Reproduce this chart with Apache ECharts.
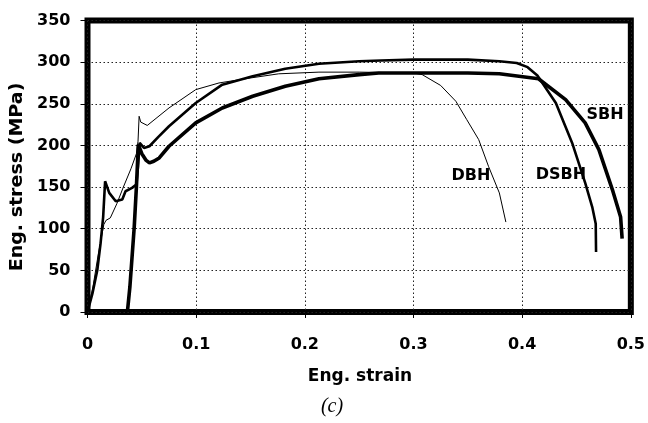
<!DOCTYPE html>
<html>
<head>
<meta charset="utf-8">
<script src="https://cdn.jsdelivr.net/npm/echarts@6/dist/echarts.min.js"></script>
<style>
html,body{margin:0;padding:0;background:#fff;}
#c{width:648px;height:423px;}
</style>
</head>
<body>
<div id="c"></div>
<script>
// ---- data ----
var xTicks = [0, 0.1, 0.2, 0.3, 0.4, 0.5];
var yTicks = [0, 50, 100, 150, 200, 250, 300, 350];

var dbhStrain = [0,0.005,0.01,0.015,0.017,0.021,0.027,0.033,0.04,0.045,0.0465,0.0475,0.049,0.055,0.075,0.0996,0.121,0.15,0.176,0.213,0.25,0.3,0.308,0.325,0.339,0.349,0.36,0.369,0.379,0.385];
var dbhStress = [0,30,70,105,110,113,130,150,172,190,205,235,228,224,245,267,275,281,286,288,288,287,285,272,253,231,207,175,143,108];

var dsbhStrain = [0,0.0045,0.009,0.012,0.0144,0.0162,0.02,0.026,0.032,0.035,0.041,0.045,0.0465,0.048,0.052,0.057,0.065,0.075,0.0996,0.124,0.152,0.182,0.213,0.25,0.27,0.3,0.35,0.379,0.395,0.405,0.414,0.431,0.446,0.458,0.4645,0.4677,0.468];
var dsbhStress = [0,22,50,82,114,157,143,133,135,145,149,153,175,203,197,199,210,223,251,273,283,292,298,301,302,303,303,301,299,294,284,251,203,155,126,106,72];

var sbhStrain = [0.0367,0.039,0.043,0.045,0.0468,0.05,0.054,0.057,0.061,0.066,0.075,0.0996,0.124,0.152,0.182,0.213,0.25,0.268,0.3,0.35,0.379,0.415,0.44,0.458,0.4706,0.483,0.4906,0.492];
var sbhStress = [0,30,102,150,201,190,182,179,181,185,199,227,245,259,271,280,285,287,287,287,286,280,255,227,195,147,114,88];

function pairs(xs, ys){ return xs.map(function(x,i){ return [x, ys[i]]; }); }

var chart = echarts.init(document.getElementById('c'), null, {renderer:'canvas'});
var gridLine = {show:true, lineStyle:{color:'#222', width:1, type:[1.5,2.5]}};
var FONT = '"DejaVu Sans", Arial, sans-serif';
var lab = {color:'#000', fontFamily:FONT, fontWeight:'bold', fontSize:16};

chart.setOption({
  animation:false,
  backgroundColor:'#fff',
  grid:{left:87.5, right:15, top:20.5, bottom:111, show:true, borderColor:'#000', borderWidth:6, backgroundColor:'transparent'},
  xAxis:{
    type:'value', min:xTicks[0], max:xTicks[xTicks.length-1], interval:0.1,
    axisLine:{show:false},
    axisTick:{show:true, inside:false, length:6, lineStyle:{color:'#000'}},
    axisLabel:Object.assign({margin:25, formatter:function(v){ return v===0?'0':v.toFixed(1); }}, lab),
    splitLine:gridLine
  },
  yAxis:{
    type:'value', min:yTicks[0], max:yTicks[yTicks.length-1], interval:50,
    axisLine:{show:false},
    axisTick:{show:true, inside:false, length:7, lineStyle:{color:'#000'}},
    axisLabel:Object.assign({margin:17}, lab),
    splitLine:gridLine
  },
  series:[
    {name:'DBH', type:'line', data:pairs(dbhStrain, dbhStress), showSymbol:false, lineStyle:{color:'#000', width:1}, z:3},
    {name:'DSBH', type:'line', data:pairs(dsbhStrain, dsbhStress), showSymbol:false, lineStyle:{color:'#000', width:2.6}, z:4},
    {name:'SBH', type:'line', data:pairs(sbhStrain, sbhStress), showSymbol:false, lineStyle:{color:'#000', width:3.6}, z:5}
  ],
  graphic:[
    {type:'text', x:18, y:177, rotation:Math.PI/2, scaleX:1.12, style:{text:'Eng. stress (MPa)', fill:'#000', font:'bold 17px ' + FONT, align:'center', verticalAlign:'middle'}},
    {type:'text', x:360, y:377, style:{text:'Eng. strain', fill:'#000', font:'bold 17px ' + FONT, align:'center', verticalAlign:'middle'}},
    {type:'text', x:332, y:407, style:{text:'(c)', fill:'#000', font:'italic 20px "Liberation Serif", "Times New Roman", serif', align:'center', verticalAlign:'middle'}},
    {type:'text', x:471, y:176, style:{text:'DBH', fill:'#000', font:'bold 16px ' + FONT, align:'center', verticalAlign:'middle'}},
    {type:'text', x:561, y:175, style:{text:'DSBH', fill:'#000', font:'bold 16px ' + FONT, align:'center', verticalAlign:'middle'}},
    {type:'text', x:605, y:115, style:{text:'SBH', fill:'#000', font:'bold 16px ' + FONT, align:'center', verticalAlign:'middle'}}
  ]
});
</script>
</body>
</html>
